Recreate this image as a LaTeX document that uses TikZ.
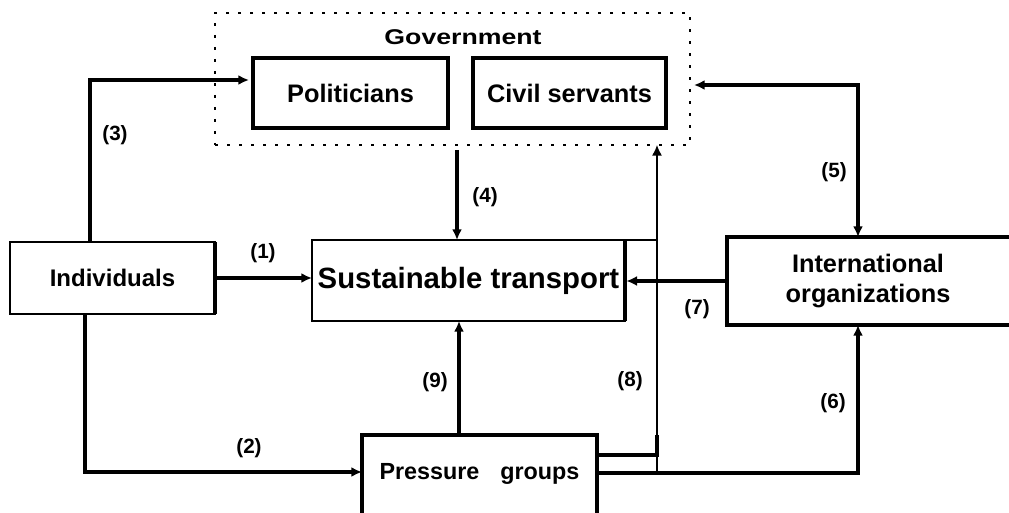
\documentclass[tikz,border=0pt]{standalone}
\usepackage{fontspec}
\setmainfont{Liberation Sans}
\usepackage{graphicx}
\usetikzlibrary{math}
\usetikzlibrary{arrows.meta}

\begin{document}
\begin{tikzpicture}[x = 0.75pt, y = -0.75pt,
	box/.style = {draw, line width = 2.7pt, inner sep = 0pt, outer sep = 0pt},
	thinbox/.style = {draw, line width = 1.4pt, inner sep = 0pt, outer sep = 0pt},
	openbox/.style = {inner sep = 0pt, outer sep = 0pt},
	govbox/.style = {draw, line width = 2pt, dash pattern = on 2pt off 7pt, inner sep = 0pt, outer sep = 0pt},
	arr/.style = {line width = 2.8pt, -{Latex[length = 8pt, width = 7.5pt]}},
	lbl/.style = {font = \bfseries\fontsize{15.5}{18}\selectfont}]

	\useasboundingbox (0,0) rectangle (1009,513);

	\tikzmath{\xa = 85; \ya = 472;};
	\tikzmath{\xb = 90; \yb = 80;};
	\tikzmath{\xc = 858; \yc = 85; \yd = 473;};
	\tikzmath{\xe = 657; \ye = 455;};

	% government
	\node[box, minimum width = 146.25pt, minimum height = 52.5pt, font = \bfseries\fontsize{19}{22}\selectfont] (pol) at (350.5,93) {Politicians};
	\node[box, minimum width = 144.75pt, minimum height = 52.5pt, font = \bfseries\fontsize{19}{22}\selectfont] (civ) at (569.5,93) {Civil servants};
	\node[govbox, minimum width = 356.25pt, minimum height = 99pt] (gov) at (452.5,79) {};
	\node[font = \bfseries\fontsize{16}{18}\selectfont] (govlbl) at (463,37) {\scalebox{1.25}[1]{Government}};

	% other actors
	\node[thinbox, minimum width = 153.75pt, minimum height = 54pt, font = \bfseries\fontsize{18}{21}\selectfont] (ind) at (112.5,278) {Individuals};
	\node[thinbox, minimum width = 234.75pt, minimum height = 60.75pt, font = \bfseries\fontsize{22}{26}\selectfont] (sus) at (468.5,280.5) {Sustainable transport};
	\node[openbox, minimum width = 211.5pt, minimum height = 66pt, align = center, font = \bfseries\fontsize{19}{22.5}\selectfont] (intl) at (868,281) {International\\organizations};
	\node[openbox, minimum width = 176.25pt, minimum height = 58.5pt, font = \bfseries\fontsize{17.5}{21}\selectfont] (pg) at (479.5,474) {Pressure\hspace{0.9em}groups};

	\draw[line width = 2.7pt] (ind.north east) -- (ind.south east);
	\draw[line width = 2.7pt] (sus.north east) -- (sus.south east);
	\draw[line width = 2.7pt] (intl.north east) -- (intl.north west) -- (intl.south west) -- (intl.south east);
	\draw[line width = 2.7pt] (pg.south west) -- (pg.north west) -- (pg.north east) -- (pg.south east);

	\coordinate (c2) at (\xa,\ya);
	\coordinate (c3) at (\xb,\yb);
	\coordinate (c4) at (457,150);
	\coordinate (c5) at (\xc,\yc);
	\coordinate (c6) at (\xc,\yd);
	\coordinate (c8) at (\xe,\ye);
	\coordinate (c9) at (459,380);

	\draw[arr] (ind.east) -- (ind.east -| sus.west);
	\node[lbl] (l1) at (263,253) {(1)};

	\draw[arr] (ind.south -| c2) -- (c2) -- (c2 -| pg.west);
	\node[lbl] (l2) at (249,448) {(2)};

	\draw[arr, shorten > = 3pt] (ind.north -| c3) -- (c3) -- (c3 -| pol.west);
	\node[lbl] (l3) at (115,135) {(3)};

	\draw[arr] (c4) -- (c4 |- sus.north);
	\node[lbl] (l4) at (485,197) {(4)};

	\draw[line width = 2.8pt, {Latex[length = 8pt, width = 7.5pt]}-{Latex[length = 8pt, width = 7.5pt]}, shorten < = 3pt] (gov.east |- c5) -- (c5) -- (c5 |- intl.north);
	\node[lbl] (l5) at (834,172) {(5)};

	\draw[arr] (pg.east |- c6) -- (c6) -- (c6 |- intl.south);
	\node[lbl] (l6) at (833,403) {(6)};

	\draw[arr, shorten > = 1pt] (intl.west) -- (intl.west -| sus.east);
	\node[lbl] (l7) at (697,309) {(7)};

	\draw[line width = 2.8pt] (pg.east |- c8) -- (c8) -- ++(0,-20);
	\draw[line width = 1pt, -{Latex[length = 8pt, width = 7.5pt]}] (c6 -| c8) -- (c8 |- gov.south);
	\draw[line width = 1pt] (sus.north east) -- (sus.north east -| c8);
	\node[lbl] (l8) at (630,381) {(8)};

	\draw[arr] (pg.north -| c9) -- (c9 |- sus.south);
	\node[lbl] (l9) at (435,382) {(9)};

\end{tikzpicture}
\end{document}
